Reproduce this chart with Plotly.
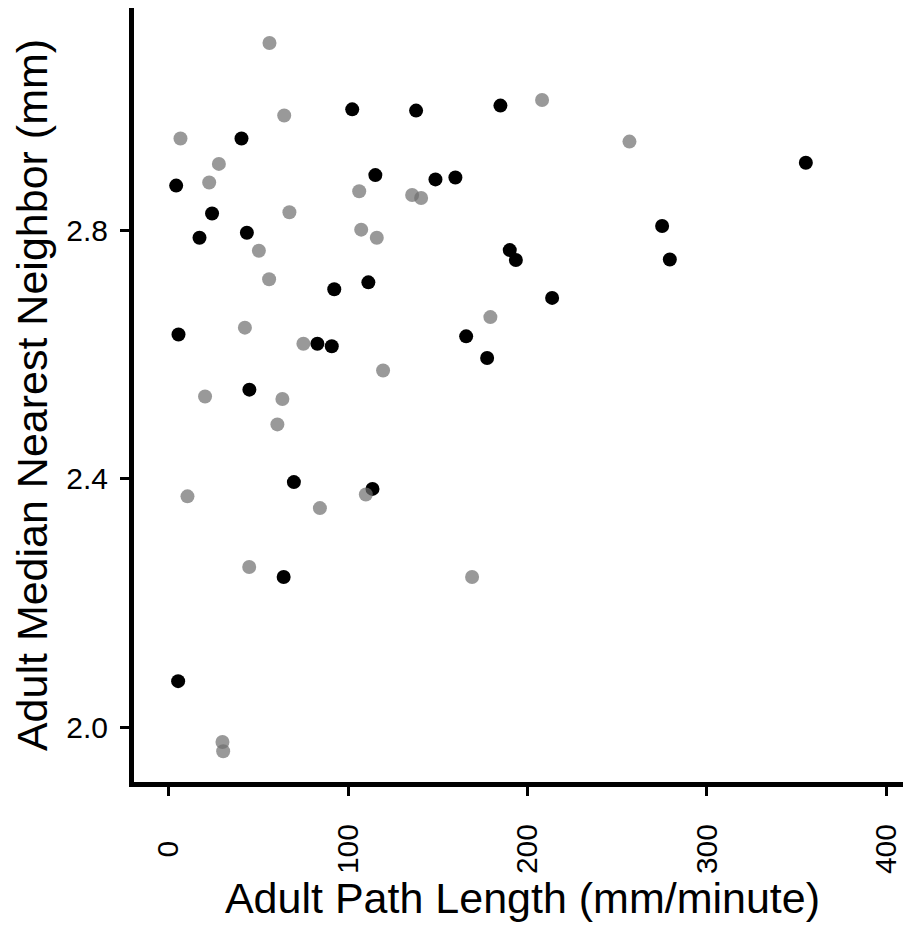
import plotly.graph_objects as go

# ---- data ----
black_x = [102.3, 137.9, 40.6, 115.2, 4.2, 24.2, 17.2, 43.6, 92.3, 111.3,
           184.9, 355.1, 148.7, 159.8, 275.0, 190.1, 193.5, 279.3, 213.7, 5.5,
           82.9, 90.9, 45.0, 69.8, 113.6, 64.1, 5.3, 165.8, 177.5]
black_y = [2.996, 2.994, 2.949, 2.890, 2.873, 2.828, 2.789, 2.797, 2.706, 2.717,
           3.002, 2.910, 2.883, 2.886, 2.808, 2.769, 2.753, 2.754, 2.692, 2.633,
           2.618, 2.614, 2.544, 2.395, 2.384, 2.242, 2.074, 2.630, 2.595]

gray_x = [56.2, 64.4, 6.6, 28.0, 22.6, 106.2, 135.7, 140.7, 67.3, 107.3,
          116.0, 50.3, 56.0, 208.1, 256.8, 42.5, 75.1, 119.5, 20.3, 63.4,
          60.6, 109.9, 10.5, 84.3, 44.9, 169.1, 179.3, 30.0, 30.4]
gray_y = [3.103, 2.986, 2.949, 2.908, 2.878, 2.864, 2.858, 2.853, 2.830, 2.802,
          2.789, 2.768, 2.722, 3.011, 2.944, 2.644, 2.618, 2.575, 2.533, 2.529,
          2.488, 2.375, 2.372, 2.353, 2.258, 2.242, 2.661, 1.976, 1.961]

x_ticks = [0, 100, 200, 300, 400]
x_tick_text = ["\u20070\u2007", "100", "200", "300", "400"]
y_ticks = [2.0, 2.4, 2.8, 3.2]

x_title = "Adult Path Length (mm/minute)"
y_title = "Adult Median Nearest Neighbor (mm)"

# page body has an 8px margin; size the figure so it fills the 911x930 window
W, H = 903, 914
L, R, T, B = 126, 0, 0, 140

fig = go.Figure()
fig.add_trace(go.Scatter(x=black_x, y=black_y, mode="markers",
                         marker=dict(size=14, color="black", line=dict(width=0)),
                         showlegend=False))
fig.add_trace(go.Scatter(x=gray_x, y=gray_y, mode="markers",
                         marker=dict(size=14, color="rgba(112,112,112,0.71)", line=dict(width=0)),
                         showlegend=False))

font = "Arial, Liberation Sans, sans-serif"
fig.update_layout(
    width=W, height=H,
    margin=dict(l=L, r=R, t=T, b=B, pad=0),
    paper_bgcolor="white", plot_bgcolor="white",
    font=dict(family=font, color="black"),
    xaxis=dict(range=[-19.3, 413.7], tickvals=x_ticks, ticktext=x_tick_text,
               tickangle=-90, tickfont=dict(size=30, color="black"),
               ticks="outside", ticklen=9, tickwidth=3, tickcolor="black",
               showline=True, linewidth=5, linecolor="black",
               showgrid=False, zeroline=False, ticklabelstandoff=16,
               title=dict(text=x_title, font=dict(size=43), standoff=18)),
    yaxis=dict(range=[1.9114, 3.1594], tickvals=y_ticks, tickformat=".1f",
               tickfont=dict(size=30, color="black"),
               ticks="outside", ticklen=9, tickwidth=3, tickcolor="black",
               showline=True, linewidth=5, linecolor="black",
               showgrid=False, zeroline=False, ticklabelstandoff=6,
               title=dict(text=y_title, font=dict(size=43), standoff=10)),
)

fig.write_html("out.html")
